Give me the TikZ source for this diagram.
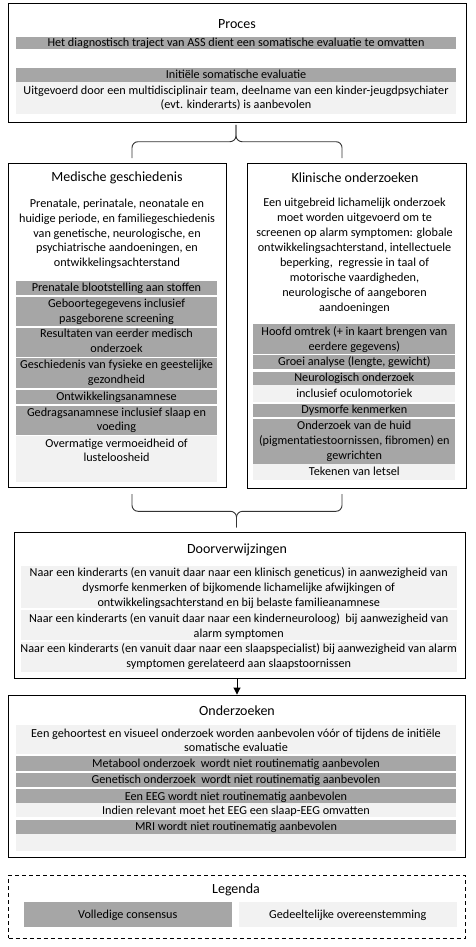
\documentclass[tikz,border=0pt]{standalone}
\usepackage{fontspec}
\setmainfont{Carlito}
\usetikzlibrary{arrows.meta,calc}
\definecolor{cgray}{HTML}{A6A6A6}
\definecolor{clight}{HTML}{F2F2F2}
\tikzset{
 frame/.style={draw=black,line width=0.9pt,inner sep=0},
 dframe/.style={draw=black,line width=0.9pt,dash pattern=on 4pt off 3pt,inner sep=0},
 gb/.style={fill=cgray,inner sep=0},
 lb/.style={fill=clight,inner sep=0},
 txt/.style={font=\fontsize{12.2}{14.9}\selectfont,align=center,inner sep=0,yshift=-1pt,execute at begin node=\strut,execute at end node=\strut},
 ttl/.style={font=\fontsize{14}{17}\selectfont,inner sep=0},
 brace/.style={draw=black!80,line width=0.9pt,rounded corners=6pt},
 arr/.style={draw=black,line width=0.9pt,-{Triangle[length=7pt,width=7pt]}}
}
% style, x1, y1, x2, y2, name
\newcommand\rectnode[6]{\node[#1,minimum width={#4-#2},minimum height={#5-#3}] (#6) at ({(#2+#4)/2},{(#3+#5)/2}) {};}
\begin{document}
\begin{tikzpicture}[x=1pt,y=-1pt]
\useasboundingbox[fill=white] (0,0) rectangle (476,947);

% ---------- Proces ----------
\rectnode{gb}{16}{37}{456}{49}{pbar1}
\rectnode{lb}{16}{82}{456}{114}{pbar3}
\rectnode{gb}{16}{68}{456}{82}{pbar2}
\rectnode{frame}{8.5}{3}{466}{122}{proces}
\node[ttl] (tproces) at (237,24) {Proces};
\node[txt] (tp1) at (236,43) {Het diagnostisch traject van ASS dient een somatische evaluatie te omvatten};
\node[txt] (tp2) at (236,75) {Initiële somatische evaluatie};
\node[txt] (tp3) at (236,98.5) {Uitgevoerd door een multidisciplinair team, deelname van een kinder-jeugdpsychiater\\(evt. kinderarts) is aanbevolen};

% ---------- Medische geschiedenis ----------
\rectnode{gb}{16}{280.5}{217}{295}{m1}
\rectnode{gb}{16}{296.5}{217}{326}{m2}
\rectnode{gb}{16}{327.5}{217}{356.5}{m3}
\rectnode{gb}{16}{358}{217}{388}{m4}
\rectnode{gb}{16}{390}{217}{403.5}{m5}
\rectnode{gb}{16}{405.5}{217}{435}{m6}
\rectnode{lb}{16}{436}{217}{481.5}{m7}
\rectnode{frame}{8.5}{163}{226}{487}{med}
\node[ttl] (tmed) at (117,178) {Medische geschiedenis};
\node[txt] (tmedp) at (117,234) {Prenatale, perinatale, neonatale en\\huidige periode, en familiegeschiedenis\\van genetische, neurologische, en\\psychiatrische aandoeningen, en\\ontwikkelingsachterstand};
\node[txt] (tm1) at (116.5,288) {Prenatale blootstelling aan stoffen};
\node[txt] (tm2) at (116.5,312) {Geboortegegevens inclusief\\pasgeborene screening};
\node[txt] (tm3) at (116.5,342) {Resultaten van eerder medisch\\onderzoek};
\node[txt] (tm4) at (116.5,373) {Geschiedenis van fysieke en geestelijke\\gezondheid};
\node[txt] (tm5) at (116.5,397) {Ontwikkelingsanamnese};
\node[txt] (tm6) at (116.5,420.5) {Gedragsanamnese inclusief slaap en\\voeding};
\node[txt] (tm7) at (116.5,451.5) {Overmatige vermoeidheid of\\lusteloosheid};

% ---------- Klinische onderzoeken ----------
\rectnode{gb}{253.3}{324}{455.3}{353.5}{k1}
\rectnode{gb}{253.3}{355}{455.3}{368.5}{k2}
\rectnode{gb}{253.3}{371.5}{455.3}{385}{k3}
\rectnode{lb}{253.3}{385}{455.3}{401.5}{k4}
\rectnode{gb}{253.3}{403.5}{455.3}{416.5}{k5}
\rectnode{gb}{253.3}{418.5}{455.3}{463.5}{k6}
\rectnode{lb}{253.3}{464}{455.3}{479.5}{k7}
\rectnode{frame}{247.5}{163}{466}{488}{kli}
\node[ttl] (tkli) at (355,178) {Klinische onderzoeken};
\node[txt] (tklip) at (354.5,256) {Een uitgebreid lichamelijk onderzoek\\moet worden uitgevoerd om te\\screenen op alarm symptomen: globale\\ontwikkelingsachterstand, intellectuele\\beperking,\ \ regressie in taal of\\motorische vaardigheden,\\neurologische of aangeboren\\aandoeningen};
\node[txt] (tk1) at (354.3,339.5) {Hoofd omtrek (+ in kaart brengen van\\eerdere gegevens)};
\node[txt] (tk2) at (354.3,362) {Groei analyse (lengte, gewicht)};
\node[txt] (tk3) at (354.3,378) {Neurologisch onderzoek};
\node[txt] (tk4) at (354.3,393.5) {inclusief oculomotoriek};
\node[txt] (tk5) at (354.3,410) {Dysmorfe kenmerken};
\node[txt] (tk6) at (354.3,441.5) {Onderzoek van de huid\\(pigmentatiestoornissen, fibromen) en\\gewrichten};
\node[txt] (tk7) at (354.3,472) {Tekenen van letsel};

% ---------- brace 1 ----------
\coordinate (b1c) at (236,125);
\coordinate (b1m) at (236,141.7);
\coordinate (b1l) at (132,158);
\coordinate (b1r) at (342,158);
\draw[brace] (b1l) -- (b1l |- b1m) -- (b1m) -- (b1c);
\draw[brace] (b1r) -- (b1r |- b1m) -- (b1m) -- (b1c);

% ---------- brace 2 ----------
\coordinate (b2c) at (236.5,527.3);
\coordinate (b2m) at (236.5,511.3);
\coordinate (b2l) at (132,494);
\coordinate (b2r) at (342,494);
\draw[brace] (b2l) -- (b2l |- b2m) -- (b2m) -- (b2c);
\draw[brace] (b2r) -- (b2r |- b2m) -- (b2m) -- (b2c);

% ---------- Doorverwijzingen ----------
\rectnode{lb}{20.7}{566}{456.7}{608}{d1}
\rectnode{lb}{20.7}{609.5}{456.7}{640}{d2}
\rectnode{lb}{20.7}{641.5}{456.7}{671.5}{d3}
\rectnode{frame}{14}{532}{465}{678.5}{dvw}
\node[ttl] (tdvw) at (237,550) {Doorverwijzingen};
\node[txt] (td1) at (238.7,588.5) {Naar een kinderarts (en vanuit daar naar een klinisch geneticus) in aanwezigheid van\\dysmorfe kenmerken of bijkomende lichamelijke afwijkingen of\\ontwikkelingsachterstand en bij belaste familieanamnese};
\node[txt] (td2) at (238.7,626.5) {Naar een kinderarts (en vanuit daar naar een kinderneuroloog)\ \ bij aanwezigheid van\\alarm symptomen};
\node[txt] (td3) at (238.7,657) {Naar een kinderarts (en vanuit daar naar een slaapspecialist) bij aanwezigheid van alarm\\symptomen gerelateerd aan slaapstoornissen};

% ---------- Onderzoeken ----------
\rectnode{lb}{16}{725}{456}{754}{o1}
\rectnode{gb}{16}{756}{456}{770.5}{o2}
\rectnode{gb}{16}{772.5}{456}{786.5}{o3}
\rectnode{gb}{16}{789}{456}{803}{o4}
\rectnode{lb}{16}{803}{456}{817}{o5}
\rectnode{gb}{16}{820}{456}{834}{o6}
\rectnode{lb}{16}{834}{456}{850.5}{o7}
\rectnode{frame}{8.5}{695}{465}{857}{ond}
\node[ttl] (tond) at (237,711) {Onderzoeken};
\node[txt] (to1) at (236,741.5) {Een gehoortest en visueel onderzoek worden aanbevolen vóór of tijdens de initiële\\somatische evaluatie};
\node[txt] (to2) at (236,764) {Metabool onderzoek\ \ wordt niet routinematig aanbevolen};
\node[txt] (to3) at (236,780) {Genetisch onderzoek\ \ wordt niet routinematig aanbevolen};
\node[txt] (to4) at (236,797) {Een EEG wordt niet routinematig aanbevolen};
\node[txt] (to5) at (236,811) {Indien relevant moet het EEG een slaap-EEG omvatten};
\node[txt] (to6) at (236,827) {MRI wordt niet routinematig aanbevolen};

% ---------- arrow ----------
\draw[arr] (dvw.south -| tdvw.center) -- (ond.north -| tdvw.center);

% ---------- Legenda ----------
\rectnode{dframe}{8.5}{875}{465}{938}{leg}
\node[ttl] (tleg) at (236,889.5) {Legenda};
\rectnode{gb}{24}{902}{231.5}{926.5}{lg1}
\rectnode{lb}{239}{902}{456.5}{926.5}{lg2}
\node[txt] (tl1) at (lg1.center) {Volledige consensus};
\node[txt] (tl2) at (lg2.center) {Gedeeltelijke overeenstemming};
\end{tikzpicture}
\end{document}
